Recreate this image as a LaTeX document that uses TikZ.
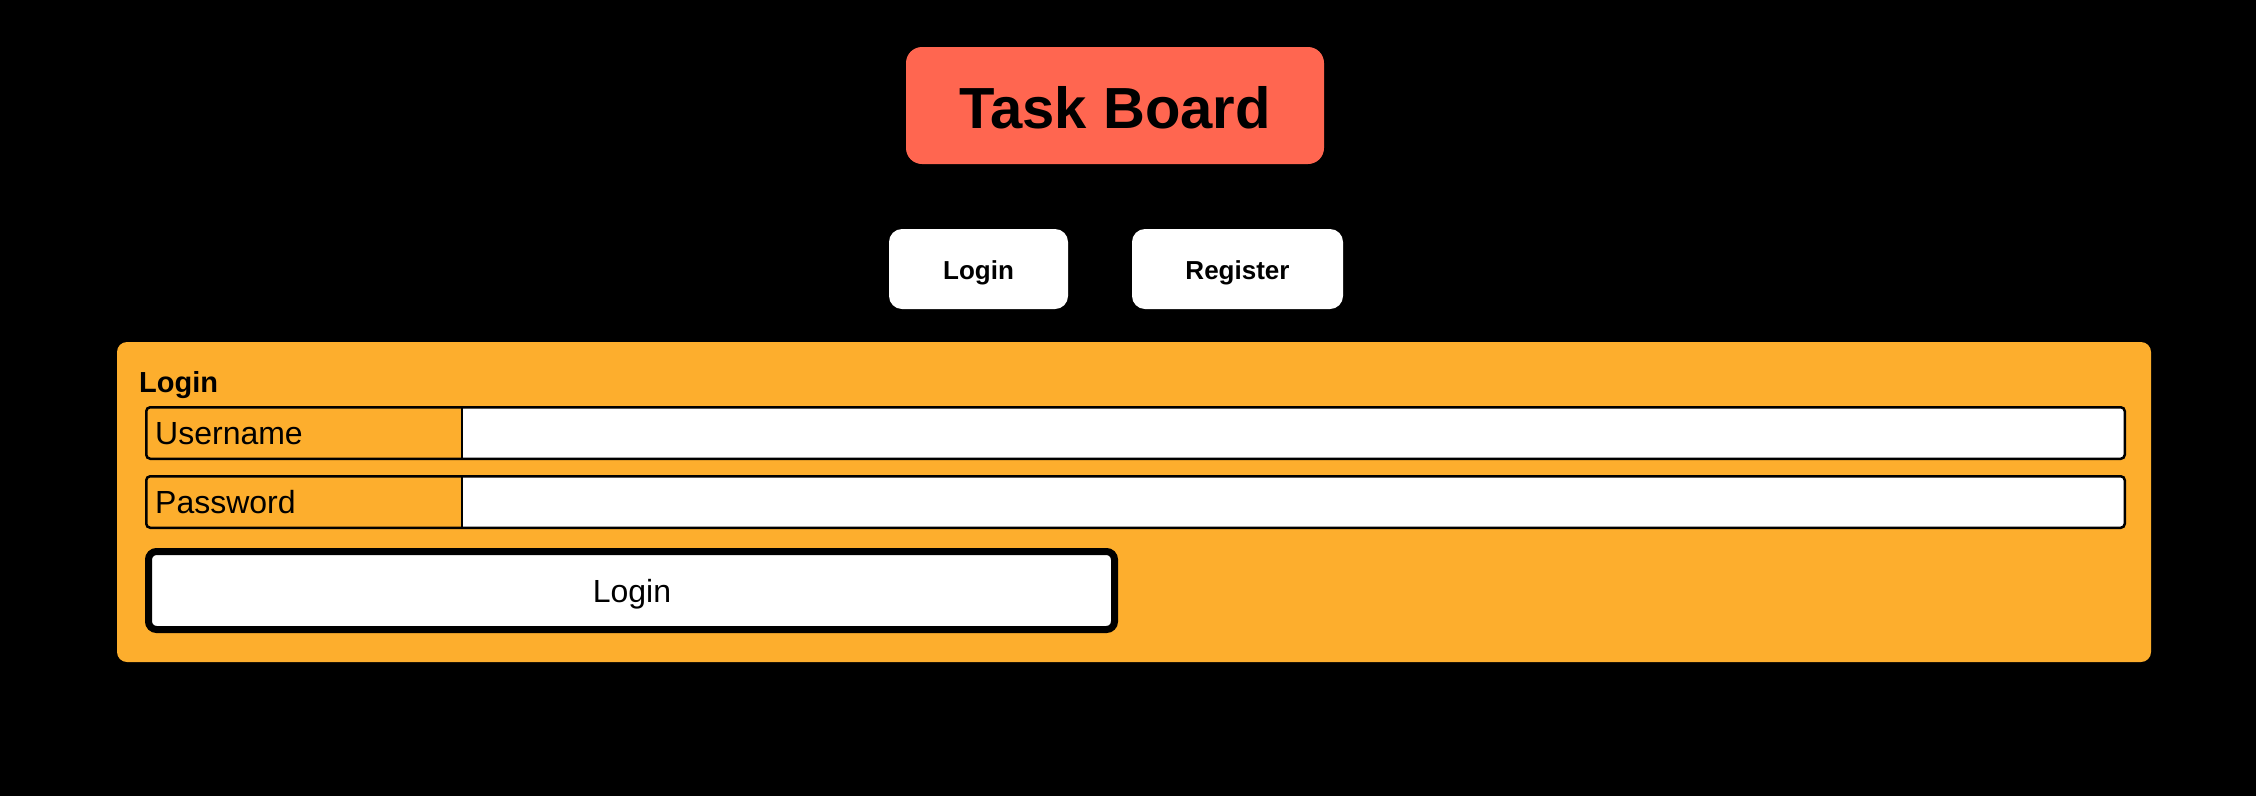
\documentclass[tikz,border=0pt]{standalone}
\usepackage{fontspec}
\setmainfont{Liberation Sans}
\definecolor{titlered}{RGB}{255,102,80}
\definecolor{panelorange}{RGB}{253,174,45}
\tikzset{
  titlebox/.style={fill=titlered, rounded corners=16pt, inner sep=0pt, outer sep=0pt},
  navbtn/.style={fill=white, rounded corners=13pt, inner sep=0pt, outer sep=0pt},
  panelbox/.style={fill=panelorange, rounded corners=10pt, inner sep=0pt, outer sep=0pt},
  fieldbox/.style={draw=black, line width=2.5pt, rounded corners=4pt, inner sep=0pt, outer sep=0pt},
  bigbtn/.style={draw=black, fill=white, line width=7pt, rounded corners=8pt, inner sep=0pt, outer sep=0pt},
  titletext/.style={font=\fontsize{58}{70}\selectfont\bfseries, text=black, inner sep=0pt},
  navtext/.style={font=\fontsize{26}{31}\selectfont\bfseries, text=black, inner sep=0pt},
  headtext/.style={font=\fontsize{29}{35}\selectfont\bfseries, text=black, inner sep=0pt},
  fieldtext/.style={font=\fontsize{32}{38}\selectfont, text=black, inner sep=0pt},
}
\begin{document}
\begin{tikzpicture}[x=1pt,y=-1pt]
\fill[black] (0,0) rectangle (2256,796);
\useasboundingbox (0,0) rectangle (2256,796);
% title
\node[titlebox, minimum width=418pt, minimum height=117pt] (title) at (1115,105.5) {};
\node[titletext, anchor=base] (titlet) at (1115,128) {Task Board};
% nav buttons
\node[navbtn, minimum width=179pt, minimum height=80pt] (navlogin) at (978.5,269) {};
\node[navtext, anchor=base] (navlogint) at (978.5,279) {Login};
\node[navbtn, minimum width=211pt, minimum height=80pt] (navreg) at (1237.5,269) {};
\node[navtext, anchor=base] (navregt) at (1237.5,279) {Register};
% panel
\node[panelbox, minimum width=2034pt, minimum height=320pt] (panel) at (1134,502) {};
\node[headtext, anchor=base west] (head) at (139,392) {Login};
% username row
\fill[white] (462,407) [rounded corners=4pt] -- (2125,407) -- (2125,459) [sharp corners] -- (462,459) -- cycle;
\node[fieldbox, minimum width=1978.5pt, minimum height=51.5pt] (userrow) at (1135.5,433) {};
\draw[line width=2.5pt] (userrow.north -| 462,0) -- (userrow.south -| 462,0);
\node[fieldtext, anchor=base west] (usert) at (155,444) {Username};
% password row
\fill[white] (462,476) [rounded corners=4pt] -- (2125,476) -- (2125,528) [sharp corners] -- (462,528) -- cycle;
\node[fieldbox, minimum width=1978.5pt, minimum height=51.5pt] (passrow) at (1135.5,502) {};
\draw[line width=2.5pt] (passrow.north -| 462,0) -- (passrow.south -| 462,0);
\node[fieldtext, anchor=base west] (passt) at (155,513) {Password};
% login button
\node[bigbtn, minimum width=966pt, minimum height=78pt] (loginbtn) at (631.5,590.5) {};
\node[fieldtext, anchor=base] (loginbtnt) at (632,602) {Login};
\end{tikzpicture}
\end{document}
